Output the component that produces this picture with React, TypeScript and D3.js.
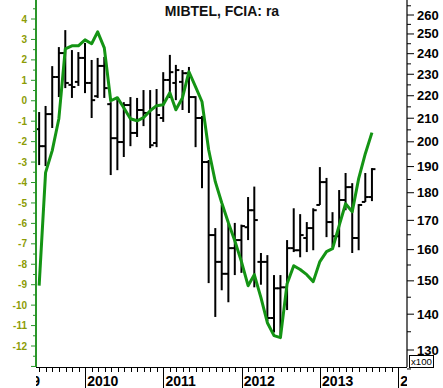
import React, { useEffect, useRef } from "react";
import * as d3 from "d3";

// monthly bars, May 2009 .. Aug 2013 (plotted at month end)
const firstMonth = new Date(2009, 4, 1);
const lastMonth = new Date(2013, 7, 1);

const open = [205.3, 198.2, 211.8, 228.7, 240.3, 225.0, 226.4, 237.9, 225.9, 219.8, 234.0, 216.2, 201.5, 199.9, 215.8, 203.7, 213.6, 212.3, 199.5, 210.1, 227.3, 225.9, 226.4, 230.5, 219.4, 210.1, 191.8, 164.9, 156.0, 152.2, 160.5, 163.2, 167.6, 173.6, 156.0, 156.0, 138.9, 147.7, 148.0, 160.5, 159.8, 163.9, 167.3, 175.5, 184.0, 169.4, 164.5, 177.3, 182.1, 163.9, 176.6, 178.4];
const high = [212.7, 215.4, 233.9, 243.3, 252.0, 241.8, 240.8, 245.4, 236.9, 237.9, 238.4, 217.1, 219.0, 217.1, 219.4, 219.0, 222.6, 222.6, 223.1, 231.0, 239.4, 234.5, 232.0, 233.5, 219.8, 211.0, 192.6, 167.3, 175.5, 169.1, 169.1, 168.5, 178.4, 182.3, 158.9, 158.2, 151.8, 151.8, 163.2, 174.3, 172.2, 169.4, 174.3, 189.8, 185.6, 172.9, 181.0, 187.5, 183.6, 175.8, 187.5, 189.4];
const low = [190.6, 190.2, 205.8, 219.4, 223.5, 219.0, 224.5, 221.2, 210.1, 219.0, 219.0, 186.7, 188.6, 193.8, 198.2, 202.0, 206.6, 197.4, 197.8, 208.4, 219.0, 218.0, 213.6, 212.3, 197.8, 181.7, 149.3, 139.2, 147.1, 143.5, 151.8, 152.5, 163.2, 148.0, 148.8, 138.0, 134.8, 134.0, 141.2, 159.2, 157.5, 159.2, 159.8, 175.5, 164.2, 160.8, 160.8, 173.6, 158.9, 159.8, 176.6, 176.9];
const close = [198.2, 211.8, 228.7, 240.3, 225.9, 224.0, 237.9, 225.9, 218.0, 234.0, 223.5, 201.5, 199.9, 215.8, 203.7, 213.6, 212.3, 198.6, 211.4, 227.3, 231.0, 232.0, 230.5, 219.4, 210.1, 191.8, 164.9, 156.0, 152.2, 160.5, 163.2, 168.0, 173.6, 170.1, 156.0, 138.9, 147.7, 148.0, 160.5, 159.8, 164.9, 167.3, 173.6, 184.0, 169.4, 164.5, 177.3, 182.1, 163.9, 175.5, 178.4, 189.0];
// FCIA "ra" (left axis)
const ra = [-9.05, -3.52, -2.44, -0.88, 2.54, 2.69, 2.69, 2.98, 2.79, 3.37, 2.59, 0.0, 0.15, -0.34, -0.88, -0.98, -0.83, -0.49, -0.24, -0.2, 0.39, -0.44, 0.15, 1.42, 0.68, -0.05, -2.4, -3.96, -4.99, -5.97, -6.85, -7.87, -9.05, -8.51, -9.63, -10.86, -11.49, -11.59, -8.95, -8.07, -8.26, -8.51, -8.85, -7.87, -7.38, -7.24, -6.11, -5.04, -5.43, -3.81, -2.59, -1.56];

const leftLabels = d3.range(-12, 5);
const rightLabels = d3.range(130, 261, 10);
const title = "MIBTEL, FCIA: ra";

const FONT = "'Liberation Sans', Arial, sans-serif";
const W = 443;
const H = 388;
const L = 36;
const R = 407;
const B = 367;

const App = () => {
  const ref = useRef<SVGSVGElement>(null);

  useEffect(() => {
    const svg = d3.select(ref.current);
    svg.selectAll("*").remove();

    const months = d3.timeMonth.range(firstMonth, d3.timeMonth.offset(lastMonth, 1));
    const rows = months.map((m, i) => ({
      date: d3.timeDay.offset(d3.timeMonth.offset(m, 1), -1),
      o: open[i],
      h: high[i],
      l: low[i],
      c: close[i],
      ra: ra[i],
    }));

    const x = d3
      .scaleTime()
      .domain([new Date(2009, 0, 1), new Date(2014, 0, 1)])
      .range([7, 398.3]);
    const yL = d3.scaleLinear().domain([-12, 4]).range([346, 19]);
    const yR = d3.scaleLog().domain([130, 260]).range([350, 15]);

    const defs = svg.append("defs");
    defs.append("clipPath").attr("id", "plot").append("rect")
      .attr("x", L).attr("y", 0).attr("width", R - L).attr("height", B);
    defs.append("clipPath").attr("id", "xax").append("rect")
      .attr("x", L).attr("y", B).attr("width", R - L).attr("height", H - B);

    svg.append("rect").attr("width", W).attr("height", H).attr("fill", "#fff");

    // title
    svg.append("text")
      .attr("x", 222).attr("y", 16)
      .attr("text-anchor", "middle")
      .style("font-family", FONT).style("font-weight", "bold").style("font-size", "14px")
      .attr("fill", "#111")
      .text(title);

    const g = svg.append("g").attr("clip-path", "url(#plot)");

    // OHLC bars
    const bar = g.selectAll("g.bar").data(rows).enter().append("g");
    bar.append("line")
      .attr("x1", (d) => x(d.date)).attr("x2", (d) => x(d.date))
      .attr("y1", (d) => yR(d.h)).attr("y2", (d) => yR(d.l))
      .attr("stroke", "#000").attr("stroke-width", 2);
    bar.append("line")
      .attr("x1", (d) => x(d.date) - 3.5).attr("x2", (d) => x(d.date))
      .attr("y1", (d) => yR(d.o)).attr("y2", (d) => yR(d.o))
      .attr("stroke", "#000").attr("stroke-width", 2);
    bar.append("line")
      .attr("x1", (d) => x(d.date)).attr("x2", (d) => x(d.date) + 3.5)
      .attr("y1", (d) => yR(d.c)).attr("y2", (d) => yR(d.c))
      .attr("stroke", "#000").attr("stroke-width", 2);

    // ra line
    const line = d3.line<any>().x((d) => x(d.date)).y((d) => yL(d.ra));
    g.append("path")
      .datum(rows)
      .attr("d", line)
      .attr("fill", "none")
      .attr("stroke", "#149414")
      .attr("stroke-width", 3)
      .attr("stroke-linejoin", "round");

    // left axis
    svg.append("line")
      .attr("x1", L).attr("x2", L).attr("y1", 0).attr("y2", B)
      .attr("stroke", "#2a962a").attr("stroke-width", 2);
    svg.selectAll("line.lt")
      .data(d3.range(-26, 11).map((k) => k / 2))
      .enter().append("line")
      .attr("x1", (d) => (Number.isInteger(d) ? L - 5 : L - 3)).attr("x2", L)
      .attr("y1", (d) => yL(d)).attr("y2", (d) => yL(d))
      .attr("stroke", "#2a962a").attr("stroke-width", 1);
    svg.selectAll("text.ll")
      .data(leftLabels)
      .enter().append("text")
      .attr("x", 27).attr("y", (d) => yL(d) + 3.6)
      .attr("text-anchor", "end")
      .style("font-family", FONT).style("font-weight", "bold").style("font-size", "10px")
      .attr("fill", "#8c9c06")
      .text((d) => d);

    // right axis
    svg.append("line")
      .attr("x1", R).attr("x2", R).attr("y1", 0).attr("y2", B)
      .attr("stroke", "#000").attr("stroke-width", 1.2);
    svg.selectAll("line.rt")
      .data(d3.range(125, 266, 5))
      .enter().append("line")
      .attr("x1", R).attr("x2", (d) => (d % 10 === 0 ? R + 7 : R + 4))
      .attr("y1", (d) => yR(d)).attr("y2", (d) => yR(d))
      .attr("stroke", "#000").attr("stroke-width", 1);
    svg.selectAll("text.rl")
      .data(rightLabels)
      .enter().append("text")
      .attr("x", 417).attr("y", (d) => yR(d) + 4.5)
      .style("font-family", FONT).style("font-weight", "bold").style("font-size", "13px")
      .attr("fill", "#000")
      .text((d) => d);

    // x100 box
    svg.append("rect")
      .attr("x", 409.5).attr("y", 355.5).attr("width", 24).attr("height", 12)
      .attr("fill", "#fff").attr("stroke", "#000").attr("stroke-width", 1);
    svg.append("text")
      .attr("x", 411).attr("y", 365)
      .attr("textLength", 21).attr("lengthAdjust", "spacingAndGlyphs")
      .style("font-family", FONT).style("font-size", "9.5px")
      .attr("fill", "#000")
      .text("x100");

    // x axis
    const xa = svg.append("g").attr("clip-path", "url(#xax)");
    svg.append("line")
      .attr("x1", L).attr("x2", R).attr("y1", B + 0.5).attr("y2", B + 0.5)
      .attr("stroke", "#000").attr("stroke-width", 1);
    xa.selectAll("line.xt")
      .data(d3.timeMonth.range(new Date(2009, 0, 1), new Date(2014, 1, 1)))
      .enter().append("line")
      .attr("x1", (d) => Math.round(x(d)) + 0.5).attr("x2", (d) => Math.round(x(d)) + 0.5)
      .attr("y1", B).attr("y2", (d) => (d.getMonth() === 0 ? H : B + 5))
      .attr("stroke", "#000").attr("stroke-width", 1);
    xa.selectAll("text.xl")
      .data(d3.timeYear.range(new Date(2009, 0, 1), new Date(2014, 1, 1)))
      .enter().append("text")
      .attr("x", (d) => x(d) + 2).attr("y", 386)
      .style("font-family", FONT).style("font-weight", "bold").style("font-size", "14px")
      .attr("fill", "#000")
      .text((d) => d3.timeFormat("%Y")(d));
  }, []);

  return (
    <svg
      ref={ref}
      width={W}
      height={H}
      style={{ position: "absolute", left: 0, top: 0, display: "block" }}
    ></svg>
  );
};

export default App;
